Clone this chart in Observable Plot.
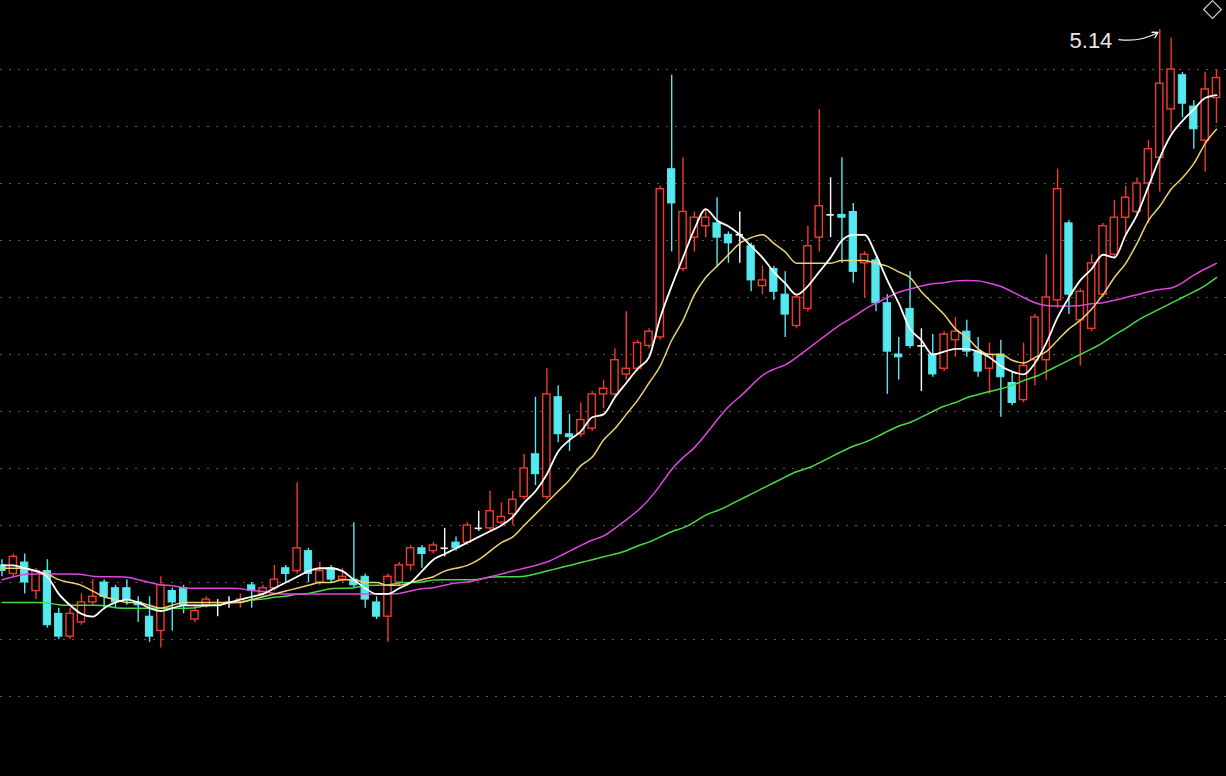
<!DOCTYPE html>
<html><head><meta charset="utf-8">
<script src="https://cdn.jsdelivr.net/npm/d3@7"></script>
<script src="https://cdn.jsdelivr.net/npm/@observablehq/plot@0.6"></script>
<style>html,body{margin:0;padding:0;background:#000;overflow:hidden}#chart svg{display:block}</style>
</head><body><div id="chart"></div>
<script>
// Daily candles (price), index = trading day
const opens = [3.26,3.23,3.27,3.17,3.24,3.09,3.01,3.06,3.13,3.20, 3.18,3.18,3.13,3.08,3.03,3.17,3.18,3.07,3.12,3.12,
  3.13,3.13,3.19,3.16,3.18,3.25,3.24,3.31,3.20,3.25, 3.21,3.21,3.22,3.13,3.08,3.20,3.26,3.32,3.31,3.32,
  3.34,3.34,3.39,3.39,3.41,3.44,3.50,3.65,3.50,3.85, 3.72,3.72,3.74,3.86,3.86,3.93,3.95,4.03,4.06,4.65,
  4.30,4.41,4.45,4.46,4.42,4.42,4.38,4.24,4.30,4.21, 4.10,4.16,4.41,4.49,4.49,4.50,4.32,4.33,4.18,4.00,
  4.16,4.03,4.00,3.95,4.05,4.08,4.01,3.95,4.00,3.90, 3.84,3.98,3.98,4.19,4.46,4.12,4.09,4.21,4.35,4.48,
  4.50,4.60,4.69,4.86,4.98,4.87,4.75,4.90];
const highs = [3.28,3.30,3.30,3.25,3.28,3.11,3.11,3.16,3.21,3.21, 3.19,3.21,3.15,3.15,3.22,3.18,3.19,3.12,3.15,3.14,
  3.15,3.16,3.20,3.19,3.26,3.26,3.55,3.32,3.27,3.26, 3.25,3.41,3.23,3.15,3.23,3.27,3.33,3.33,3.34,3.39,
  3.36,3.41,3.45,3.52,3.48,3.52,3.65,3.85,3.95,3.89, 3.79,3.83,3.87,3.91,4.02,4.15,4.05,4.09,4.59,4.98,
  4.69,4.50,4.51,4.55,4.43,4.50,4.39,4.31,4.31,4.29, 4.21,4.45,4.86,4.62,4.69,4.53,4.36,4.34,4.21,4.06,
  4.29,4.09,4.07,4.08,4.13,4.12,4.06,4.04,4.05,3.94, 4.04,4.14,4.35,4.65,4.47,4.23,4.35,4.46,4.54,4.59,
  4.62,4.75,5.14,5.11,4.99,4.89,4.99,5.00];
const lows = [3.22,3.22,3.16,3.14,3.04,3.00,3.00,3.05,3.12,3.11, 3.11,3.12,3.06,2.99,2.97,3.03,3.09,3.06,3.11,3.08,
  3.11,3.11,3.11,3.15,3.17,3.20,3.23,3.20,3.19,3.20, 3.20,3.18,3.11,3.07,2.99,3.19,3.24,3.25,3.30,3.29,
  3.31,3.33,3.38,3.38,3.40,3.40,3.49,3.54,3.49,3.69, 3.66,3.71,3.73,3.81,3.85,3.91,3.94,4.02,4.05,4.36,
  4.29,4.36,4.41,4.31,4.32,4.32,4.22,4.21,4.19,4.06, 4.09,4.15,4.36,4.41,4.32,4.25,4.20,4.15,3.86,3.91,
  4.02,3.87,3.92,3.94,3.99,3.99,3.92,3.86,3.78,3.82, 3.83,3.89,3.91,4.16,4.14,3.96,4.08,4.20,4.34,4.42,
  4.49,4.46,4.57,4.78,4.83,4.72,4.64,4.81];
const closes = [3.24,3.29,3.20,3.24,3.05,3.01,3.09,3.13,3.15,3.15, 3.13,3.14,3.12,3.01,3.19,3.13,3.12,3.10,3.14,3.12,
  3.13,3.14,3.17,3.18,3.21,3.23,3.32,3.23,3.24,3.21, 3.22,3.19,3.14,3.08,3.22,3.26,3.32,3.30,3.33,3.32,
  3.32,3.40,3.39,3.45,3.43,3.49,3.60,3.58,3.86,3.72, 3.71,3.77,3.86,3.88,3.98,3.95,4.04,4.08,4.58,4.53,
  4.50,4.48,4.48,4.41,4.39,4.42,4.26,4.26,4.22,4.14, 4.20,4.38,4.52,4.49,4.48,4.29,4.35,4.18,4.01,3.99,
  4.03,4.03,3.93,4.07,4.08,4.01,3.94,4.00,3.92,3.83, 3.96,4.13,4.20,4.58,4.21,4.22,4.32,4.45,4.48,4.55,
  4.60,4.72,4.95,5.00,4.88,4.79,4.93,4.97];

// Moving averages
const ma5 = [3.26,3.26,3.25,3.24,3.22,3.16,3.12,3.09,3.08,3.11, 3.13,3.14,3.13,3.11,3.10,3.11,3.12,3.12,3.12,3.12,
  3.13,3.14,3.15,3.16,3.18,3.20,3.22,3.24,3.25,3.25, 3.24,3.21,3.18,3.16,3.16,3.18,3.20,3.24,3.28,3.30,
  3.32,3.34,3.36,3.38,3.40,3.43,3.48,3.52,3.58,3.66, 3.70,3.73,3.78,3.79,3.85,3.90,3.95,3.99,4.13,4.24,
  4.34,4.44,4.51,4.47,4.45,4.42,4.38,4.34,4.29,4.25, 4.21,4.24,4.29,4.34,4.40,4.42,4.42,4.35,4.26,4.18,
  4.09,4.05,4.00,4.01,4.02,4.02,4.01,3.99,3.96,3.94, 3.93,3.97,4.04,4.13,4.20,4.26,4.30,4.35,4.34,4.42,
  4.49,4.59,4.69,4.77,4.82,4.86,4.90,4.91];
const ma10 = [3.25,3.25,3.25,3.24,3.23,3.21,3.20,3.19,3.17,3.15, 3.14,3.13,3.13,3.12,3.11,3.12,3.13,3.13,3.13,3.13,
  3.13,3.13,3.14,3.15,3.16,3.17,3.18,3.19,3.20,3.20, 3.21,3.21,3.20,3.20,3.19,3.19,3.20,3.21,3.22,3.24,
  3.25,3.26,3.28,3.31,3.34,3.36,3.40,3.44,3.48,3.52, 3.56,3.61,3.64,3.70,3.74,3.79,3.84,3.90,3.96,4.05,
  4.12,4.21,4.27,4.31,4.35,4.39,4.41,4.42,4.39,4.36, 4.32,4.32,4.32,4.32,4.33,4.33,4.33,4.32,4.31,4.29,
  4.27,4.22,4.18,4.14,4.09,4.06,4.02,4.00,4.00,3.98, 3.97,3.99,4.01,4.05,4.09,4.12,4.16,4.21,4.27,4.32,
  4.39,4.47,4.52,4.58,4.62,4.67,4.74,4.79];
const ma30 = [3.21,3.22,3.23,3.23,3.23,3.23,3.23,3.23,3.22,3.22, 3.22,3.22,3.21,3.20,3.19,3.19,3.18,3.18,3.18,3.18,
  3.18,3.18,3.17,3.17,3.16,3.16,3.16,3.16,3.16,3.16, 3.16,3.16,3.16,3.16,3.16,3.16,3.17,3.18,3.18,3.19,
  3.20,3.20,3.21,3.22,3.23,3.24,3.25,3.26,3.27,3.29, 3.31,3.33,3.35,3.36,3.39,3.42,3.45,3.49,3.54,3.60,
  3.64,3.67,3.72,3.77,3.82,3.85,3.89,3.93,3.95,3.96, 3.99,4.02,4.05,4.08,4.11,4.13,4.16,4.18,4.20,4.22,
  4.23,4.24,4.25,4.25,4.26,4.26,4.26,4.25,4.24,4.22, 4.20,4.18,4.17,4.17,4.17,4.17,4.18,4.18,4.19,4.20,
  4.21,4.22,4.23,4.23,4.25,4.28,4.30,4.32];
const ma60 = [3.13,3.13,3.13,3.13,3.13,3.12,3.12,3.12,3.12,3.12, 3.11,3.11,3.11,3.11,3.11,3.11,3.11,3.11,3.12,3.12,
  3.13,3.13,3.14,3.14,3.15,3.15,3.16,3.16,3.17,3.18, 3.18,3.18,3.19,3.19,3.19,3.20,3.20,3.20,3.21,3.21,
  3.21,3.21,3.21,3.22,3.22,3.22,3.22,3.23,3.24,3.25, 3.26,3.27,3.28,3.29,3.30,3.31,3.33,3.34,3.36,3.38,
  3.39,3.41,3.44,3.45,3.47,3.49,3.51,3.53,3.55,3.57, 3.59,3.60,3.62,3.64,3.66,3.68,3.69,3.71,3.73,3.75,
  3.76,3.78,3.80,3.82,3.83,3.85,3.86,3.87,3.88,3.89, 3.91,3.92,3.94,3.96,3.98,4.00,4.02,4.04,4.07,4.09,
  4.12,4.14,4.16,4.18,4.20,4.22,4.24,4.27];

// Horizontal price grid
const gridPrices = [5.0,4.8,4.6,4.4,4.2,4.0,3.8,3.6,3.4,3.2,3.0,2.8];

const candles = opens.map((o, i) => ({i, open: o, high: highs[i], low: lows[i], close: closes[i]}));
const up = candles.filter(d => d.close > d.open);
const down = candles.filter(d => d.close < d.open);
const flat = candles.filter(d => d.close === d.open);
const series = a => a.map((v, i) => ({i, v}));
const peak = candles.reduce((a, b) => (b.high > a.high ? b : a));

const RED = "#f23b2c", CYAN = "#55e8ee", WHITE = "#ffffff";
const HALF = 0.32;

const chart = Plot.plot({
  width: 1226, height: 776,
  marginTop: 0, marginRight: 0, marginBottom: 0, marginLeft: 0,
  x: {domain: [-0.132, 107.88], axis: null},
  y: {domain: [2.5193, 5.2421], axis: null},
  style: {background: "#000", overflow: "hidden"},
  marks: [
    Plot.ruleY(gridPrices, {stroke: "#5a5a5a", strokeWidth: 1.2, strokeDasharray: "2,7"}),
    // wicks
    Plot.ruleX(up, {x: "i", y1: "low", y2: "high", stroke: RED, strokeWidth: 1.4}),
    Plot.ruleX(down, {x: "i", y1: "low", y2: "high", stroke: CYAN, strokeWidth: 1.4}),
    Plot.ruleX(flat, {x: "i", y1: "low", y2: "high", stroke: WHITE, strokeWidth: 1.4}),
    // bodies
    Plot.rect(up, {x1: d => d.i - HALF, x2: d => d.i + HALF, y1: "open", y2: "close", fill: "#000", stroke: RED, strokeWidth: 1.4}),
    Plot.rect(down, {x1: d => d.i - HALF, x2: d => d.i + HALF, y1: "open", y2: "close", fill: CYAN, stroke: CYAN, strokeWidth: 1}),
    Plot.ruleY(flat, {y: "close", x1: d => d.i - HALF, x2: d => d.i + HALF, stroke: WHITE, strokeWidth: 1.6}),
    // moving averages
    Plot.line(series(ma60), {x: "i", y: "v", stroke: "#46dc46", strokeWidth: 1.5, curve: "basis"}),
    Plot.line(series(ma30), {x: "i", y: "v", stroke: "#df45df", strokeWidth: 1.5, curve: "basis"}),
    Plot.line(series(ma10), {x: "i", y: "v", stroke: "#ecd36e", strokeWidth: 1.5, curve: "monotone-x"}),
    Plot.line(series(ma5), {x: "i", y: "v", stroke: "#ffffff", strokeWidth: 1.8, curve: "monotone-x"}),
    // annotation of the high
    Plot.text([peak], {x: d => d.i - 4, y: "high", text: d => d.high.toFixed(2), textAnchor: "end", dx: -2, dy: 11,
      fill: "#e8e8e8", fontSize: 22, fontFamily: "Liberation Sans, Arial, sans-serif"}),
    Plot.arrow([peak], {x1: d => d.i - 3.6, y1: d => d.high - 0.035, x2: d => d.i - 0.15, y2: d => d.high - 0.01,
      bend: -18, stroke: "#eeeeee", strokeWidth: 1.3, headLength: 7}),
    Plot.dot([0], {frameAnchor: "top-right", dx: -14, dy: 9, symbol: "diamond2", r: 8, stroke: "#cfcfcf", strokeWidth: 1.2, fill: "none"})
  ]
});
document.getElementById("chart").append(chart);
</script>
</body></html>
